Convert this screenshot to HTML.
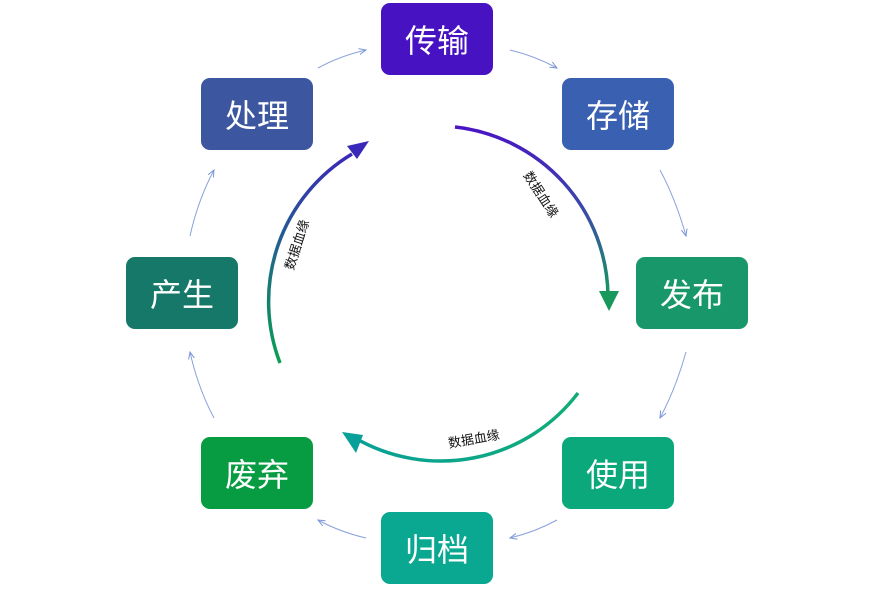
<!DOCTYPE html>
<html><head><meta charset="utf-8"><style>
html,body{margin:0;padding:0;background:#fff;}
.b{position:absolute;width:112px;height:72px;border-radius:9px;color:#fff;font:32px "Liberation Sans","Noto Sans CJK SC",sans-serif;display:flex;align-items:center;justify-content:center;}
</style></head><body>
<div style="position:relative;width:875px;height:594px;overflow:hidden">
<svg width="875" height="594" style="position:absolute;left:0;top:0">
<defs>
<linearGradient id="g1" x1="0" y1="0" x2="0" y2="1"><stop offset="0" stop-color="#4a14c4"/><stop offset="0.5" stop-color="#3a4aa8"/><stop offset="1" stop-color="#149a5c"/></linearGradient>
<linearGradient id="g2" x1="0" y1="1" x2="0" y2="0"><stop offset="0" stop-color="#08a050"/><stop offset="0.5" stop-color="#1e6a88"/><stop offset="1" stop-color="#3a28b8"/></linearGradient>
<linearGradient id="g3" x1="1" y1="0" x2="0" y2="0"><stop offset="0" stop-color="#10ac78"/><stop offset="1" stop-color="#08a098"/></linearGradient>
<marker id="ar" markerWidth="8" markerHeight="8" refX="7" refY="4" orient="auto" markerUnits="userSpaceOnUse"><path d="M0,1 L7,4 L0,7" fill="none" stroke="#7a96d8" stroke-width="1"/></marker>
</defs>
<g stroke="#8aa2dc" stroke-width="1" fill="none" marker-end="url(#ar)">
<path d="M318,68 Q340,56 366,50"/>
<path d="M510,50 Q535,56 557,68"/>
<path d="M660,170 Q676,200 686,236"/>
<path d="M686,352 Q676,388 660,418"/>
<path d="M557,520 Q535,532 510,538"/>
<path d="M366,538 Q340,532 318,520"/>
<path d="M214,418 Q198,388 190,352"/>
<path d="M190,236 Q198,200 214,170"/>
</g>
<path d="M455,127 A172,172 0 0 1 608,296" stroke="url(#g1)" stroke-width="3.5" fill="none"/>
<polygon points="599,291 619,291 609,311" fill="#18985a"/>
<path d="M280,363 A172,172 0 0 1 352,154" stroke="url(#g2)" stroke-width="3.5" fill="none"/>
<polygon points="369,141 347,146 357,159" fill="#3a28b8"/>
<path d="M578,393 A172,172 0 0 1 355,438" stroke="url(#g3)" stroke-width="3.5" fill="none"/>
<polygon points="342,432 356,453 363,435" fill="#08a098"/>
<g font-family="Liberation Sans,Noto Sans CJK SC,sans-serif" font-size="13" fill="#111">
<text x="0" y="0" transform="translate(540,195) rotate(57)" text-anchor="middle" dominant-baseline="middle">数据血缘</text>
<text x="0" y="0" transform="translate(298,245) rotate(-72)" text-anchor="middle" dominant-baseline="middle">数据血缘</text>
<text x="0" y="0" transform="translate(474,440) rotate(-10)" text-anchor="middle" dominant-baseline="middle">数据血缘</text>
</g>
</svg>
<div class="b" style="left:381px;top:3px;background:#4712c2">传输</div>
<div class="b" style="left:562px;top:78px;background:#3a60b2">存储</div>
<div class="b" style="left:636px;top:257px;background:#18986a">发布</div>
<div class="b" style="left:562px;top:437px;background:#0aa87a">使用</div>
<div class="b" style="left:381px;top:512px;background:#0aa890">归档</div>
<div class="b" style="left:201px;top:437px;background:#079c42">废弃</div>
<div class="b" style="left:126px;top:257px;background:#167868">产生</div>
<div class="b" style="left:201px;top:78px;background:#3c56a0">处理</div>
</div>
</body></html>
